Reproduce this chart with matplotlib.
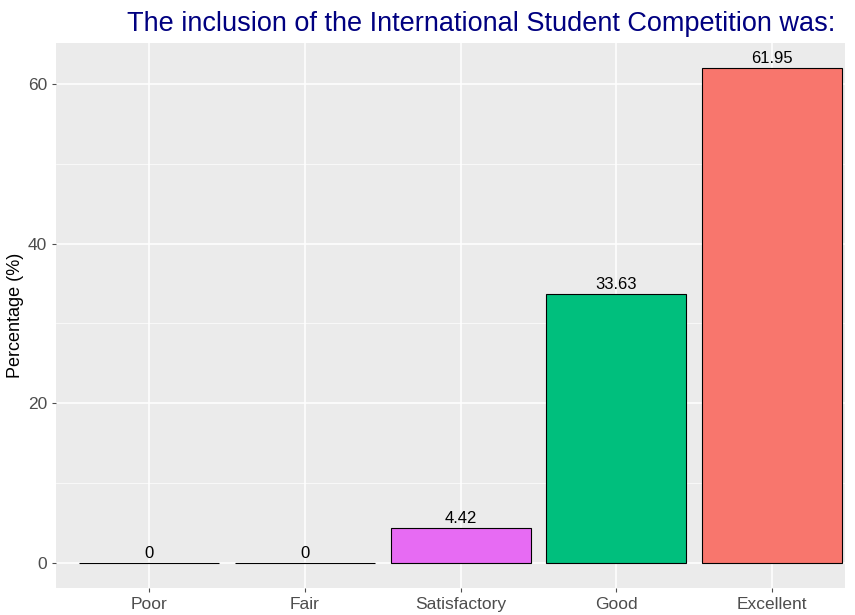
import matplotlib.pyplot as plt
from matplotlib.ticker import MultipleLocator

# Data
categories = ["Poor", "Fair", "Satisfactory", "Good", "Excellent"]
percentages = [0, 0, 4.42, 33.63, 61.95]
labels = ["0", "0", "4.42", "33.63", "61.95"]
colors = ["#A3A500", "#00B0F6", "#E76BF3", "#00BF7D", "#F8766D"]

plt.rcParams["font.family"] = ["Liberation Sans", "DejaVu Sans"]

fig = plt.figure(figsize=(8.55, 6.15), dpi=100)
ax = fig.add_axes([56 / 855, 1 - 588 / 615, (845 - 56) / 855, (588 - 43) / 615])
ax.set_facecolor("#EBEBEB")

x = list(range(len(categories)))
ax.bar(x, percentages, width=0.9, color=colors, edgecolor="black", linewidth=0.8, zorder=3)
for xi, v, lab in zip(x, percentages, labels):
    ax.text(xi, v + 0.3, lab, ha="center", va="bottom", fontsize=12, color="black", zorder=4)

ax.set_xlim(-0.6, 4.47)
ax.set_ylim(-3.1, 65.1)
ax.set_xticks(x)
ax.set_xticklabels(categories)
ax.yaxis.set_major_locator(MultipleLocator(20))
ax.yaxis.set_minor_locator(MultipleLocator(10))

ax.grid(which="major", color="white", linewidth=1.1, zorder=0)
ax.grid(which="minor", axis="y", color="white", linewidth=0.5, zorder=0)
for s in ax.spines.values():
    s.set_visible(False)
ax.tick_params(which="major", colors="#4D4D4D", labelsize=12.5, length=3, width=0.8)
ax.tick_params(which="minor", length=0)

ax.set_ylabel("Percentage (%)", fontsize=13, color="black", labelpad=3)

fig.text(481 / 855, 1 - 24 / 615, "The inclusion of the International Student Competition was:",
         ha="center", va="center", fontsize=19.5, color="#000080")

fig.savefig("out.png", dpi=100)
